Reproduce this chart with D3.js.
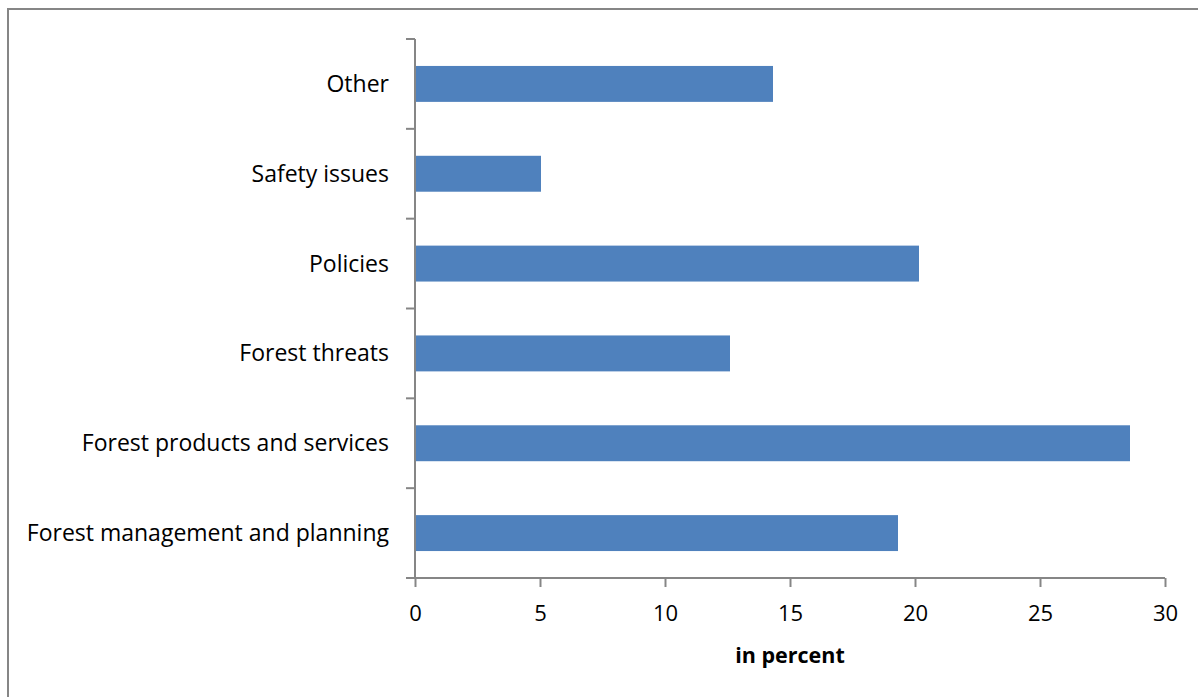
<!DOCTYPE html>
<html>
<head>
<meta charset="utf-8">
<script src="https://cdn.jsdelivr.net/npm/d3@7"></script>
<style>
  body { margin: 0; background: #fff; }
  svg text { font-family: "Open Sans", sans-serif; fill: #000; }
</style>
</head>
<body>
<svg id="chart" width="1198" height="697"></svg>
<script>
const categories = ["Forest management and planning", "Forest products and services", "Forest threats", "Policies", "Safety issues", "Other"];
const values = [19.32, 28.6, 12.6, 20.16, 5.04, 14.32];
const xTicks = [0, 5, 10, 15, 20, 25, 30];

const margin = { top: 39, right: 33, bottom: 119, left: 415 },
    width = 1198 - margin.left - margin.right,
    height = 697 - margin.top - margin.bottom;

const svg = d3.select("#chart");

// outer chart border
svg.append("rect")
    .attr("x", 8).attr("y", 9)
    .attr("width", 1198).attr("height", 700)
    .attr("fill", "none")
    .attr("stroke", "#868686")
    .attr("stroke-width", 2);

const g = svg.append("g")
    .attr("transform", `translate(${margin.left},${margin.top})`);

const x = d3.scaleLinear().domain([0, 30]).range([0, width]);
const y = d3.scaleBand()
    .domain(categories.slice().reverse())
    .range([0, height])
    .paddingInner(0.6).paddingOuter(0.3);

g.selectAll("rect.bar")
    .data(categories.map((c, i) => ({ c, v: values[i] })))
    .enter()
    .append("rect")
    .attr("class", "bar")
    .attr("x", 0)
    .attr("y", d => y(d.c))
    .attr("width", d => x(d.v))
    .attr("height", y.bandwidth())
    .attr("fill", "#4F81BD");

// y axis: line with ticks at band boundaries
const step = height / categories.length;
g.append("line")
    .attr("x1", 0).attr("x2", 0).attr("y1", 0).attr("y2", height)
    .attr("stroke", "#868686").attr("stroke-width", 2);
g.selectAll("line.ytick")
    .data(d3.range(categories.length + 1))
    .enter()
    .append("line")
    .attr("class", "ytick")
    .attr("x1", -9).attr("x2", 0)
    .attr("y1", d => d * step).attr("y2", d => d * step)
    .attr("stroke", "#868686").attr("stroke-width", 2);

g.selectAll("text.ylab")
    .data(categories)
    .enter()
    .append("text")
    .attr("class", "ylab")
    .attr("x", -26)
    .attr("y", d => y(d) + y.bandwidth() / 2)
    .attr("dy", "0.35em")
    .attr("text-anchor", "end")
    .style("font-size", "23px")
    .text(d => d);

// x axis
const xAxis = g.append("g")
    .attr("transform", `translate(0,${height})`)
    .call(d3.axisBottom(x).tickValues(xTicks).tickSize(9).tickPadding(18));
xAxis.select(".domain").attr("stroke", "#868686").attr("stroke-width", 2)
    .attr("d", `M0,0H${width}`);
xAxis.selectAll(".tick line").attr("stroke", "#868686").attr("stroke-width", 2);
xAxis.selectAll(".tick text")
    .style("font-size", "22px")
    .style("font-family", "'Open Sans', sans-serif");

g.append("text")
    .attr("x", width / 2)
    .attr("y", height + 85)
    .attr("text-anchor", "middle")
    .style("font-size", "21.5px")
    .style("font-weight", "bold")
    .text("in percent");
</script>
</body>
</html>
